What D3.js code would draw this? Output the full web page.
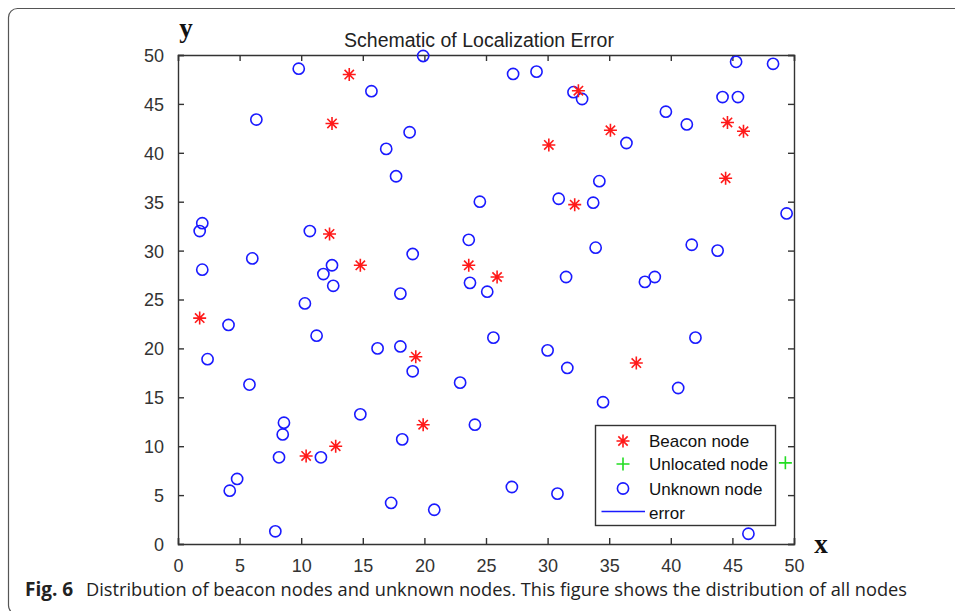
<!DOCTYPE html>
<html>
<head>
<meta charset="utf-8">
<script src="https://cdn.jsdelivr.net/npm/d3@7"></script>
<style>
  body { margin: 0; background: #fff; }
  svg { display: block; }
</style>
</head>
<body>
<svg id="chart"></svg>
<script>
// Beacon nodes (red asterisks)
const beaconX = [13.9, 12.5, 12.3, 14.8, 23.6, 32.5, 35.1, 30.1, 44.6, 45.9, 44.45, 32.2, 25.9, 1.76, 19.3, 19.9, 12.8, 10.4, 37.2];
const beaconY = [48.0, 43.0, 31.7, 28.5, 28.5, 46.35, 42.3, 40.8, 43.1, 42.2, 37.4, 34.7, 27.3, 23.1, 19.15, 12.2, 10.0, 9.0, 18.5];

// Unknown nodes (blue circles)
const unknownX = [9.8, 15.7, 19.9, 6.36, 18.8, 16.9, 17.7, 24.5, 1.97, 1.76, 10.7, 6.03, 19.05, 23.6, 1.97, 12.5, 11.8, 12.6,
  18.05, 23.7, 10.3, 27.2, 29.1, 32.1, 32.8, 45.3, 48.3, 44.2, 45.45, 39.6, 41.3, 36.4, 34.2, 30.9, 33.7, 49.4, 33.9, 41.7,
  43.8, 31.5, 37.9, 38.7, 25.1, 4.1, 11.25, 2.4, 16.2, 18.05, 19.05, 5.8, 22.9, 14.8, 8.6, 8.5, 24.1, 18.2, 8.2, 11.6,
  4.8, 4.2, 17.3, 20.8, 7.9, 25.6, 30.0, 31.6, 42.0, 40.6, 34.5, 27.1, 30.8, 46.3];
const unknownY = [48.6, 46.3, 49.9, 43.4, 42.1, 40.4, 37.6, 35.0, 32.8, 32.0, 32.0, 29.2, 29.65, 31.1, 28.05, 28.5, 27.6, 26.4,
  25.6, 26.7, 24.6, 48.06, 48.3, 46.2, 45.5, 49.3, 49.1, 45.7, 45.7, 44.2, 42.9, 41.0, 37.1, 35.3, 34.9, 33.8, 30.3, 30.6,
  30.0, 27.3, 26.8, 27.3, 25.8, 22.4, 21.3, 18.9, 20.0, 20.2, 17.66, 16.3, 16.5, 13.26, 12.4, 11.2, 12.2, 10.7, 8.86, 8.86,
  6.65, 5.45, 4.2, 3.5, 1.3, 21.1, 19.8, 18.0, 21.1, 15.95, 14.5, 5.83, 5.15, 1.05];

// Unlocated nodes (green plus)
const unlocatedX = [49.3];
const unlocatedY = [8.3];

const xTicks = [0, 5, 10, 15, 20, 25, 30, 35, 40, 45, 50];
const yTicks = [0, 5, 10, 15, 20, 25, 30, 35, 40, 45, 50];
const legendLabels = ['Beacon node', 'Unlocated node', 'Unknown node', 'error'];

const width = 955, height = 611;
const svg = d3.select('#chart').attr('width', width).attr('height', height);

// card border
svg.append('rect')
  .attr('x', 8.5).attr('y', 8.5)
  .attr('width', 1000).attr('height', 606)
  .attr('rx', 9)
  .attr('fill', 'none')
  .attr('stroke', '#555')
  .attr('stroke-width', 1.2);

const plot = { left: 178, right: 794, top: 55, bottom: 544 };
const x = d3.scaleLinear().domain([0, 50]).range([plot.left, plot.right]);
const y = d3.scaleLinear().domain([0, 50]).range([plot.bottom, plot.top]);

const axisColor = '#333';
const tickFont = '18px "Liberation Sans", Arial, sans-serif';

// axes box (MATLAB style, ticks inside)
const xAxis = svg.append('g')
  .attr('transform', `translate(0,${plot.bottom})`)
  .call(d3.axisBottom(x).tickValues(xTicks).tickSize(-6).tickPadding(14).tickFormat(d3.format('d')));
const xTop = svg.append('g')
  .attr('transform', `translate(0,${plot.top})`)
  .call(d3.axisTop(x).tickValues(xTicks).tickSize(-6).tickFormat(''));
const yAxis = svg.append('g')
  .attr('transform', `translate(${plot.left},0)`)
  .call(d3.axisLeft(y).tickValues(yTicks).tickSize(-6).tickPadding(14).tickFormat(d3.format('d')));
const yRight = svg.append('g')
  .attr('transform', `translate(${plot.right},0)`)
  .call(d3.axisRight(y).tickValues(yTicks).tickSize(-6).tickFormat(''));

[xAxis, xTop, yAxis, yRight].forEach(g => {
  g.select('.domain').attr('stroke', axisColor).attr('stroke-width', 1.4);
  g.selectAll('.tick line').attr('stroke', axisColor).attr('stroke-width', 1.4);
  g.selectAll('.tick text').style('font', tickFont).attr('fill', '#333');
});
xAxis.selectAll('.tick text').attr('dy', '0.75em');
yAxis.selectAll('.tick text').attr('dy', '0.36em');

// title
svg.append('text')
  .attr('x', 479).attr('y', 47)
  .attr('text-anchor', 'middle')
  .style('font', '19.5px "Liberation Sans", Arial, sans-serif')
  .attr('fill', '#222')
  .text('Schematic of Localization Error');

// axis letters
svg.append('text')
  .attr('x', 186).attr('y', 37)
  .attr('text-anchor', 'middle')
  .style('font', 'bold 27px "Liberation Serif", "Times New Roman", serif')
  .attr('fill', '#111')
  .text('y');
svg.append('text')
  .attr('x', 821).attr('y', 553)
  .attr('text-anchor', 'middle')
  .style('font', 'bold 27px "Liberation Serif", "Times New Roman", serif')
  .attr('fill', '#111')
  .text('x');

// marker shapes
const red = '#ff1a1a', blue = '#1a1aff', green = '#22dd22';
const starPath = (r) => {
  const d = r * 0.72;
  return `M${-r},0L${r},0M0,${-r}L0,${r}M${-d},${-d}L${d},${d}M${-d},${d}L${d},${-d}`;
};
const plusPath = (r) => `M${-r},0L${r},0M0,${-r}L0,${r}`;

const unknown = unknownX.map((v, i) => [v, unknownY[i]]);
const beacon = beaconX.map((v, i) => [v, beaconY[i]]);
const unlocated = unlocatedX.map((v, i) => [v, unlocatedY[i]]);

svg.append('g').selectAll('circle')
  .data(unknown)
  .enter().append('circle')
    .attr('cx', d => x(d[0]))
    .attr('cy', d => y(d[1]))
    .attr('r', 5.6)
    .attr('fill', 'none')
    .attr('stroke', blue)
    .attr('stroke-width', 1.6);

svg.append('g').selectAll('path')
  .data(beacon)
  .enter().append('path')
    .attr('transform', d => `translate(${x(d[0])},${y(d[1])})`)
    .attr('d', starPath(6.5))
    .attr('stroke', red)
    .attr('stroke-width', 1.6)
    .attr('fill', 'none');

svg.append('g').selectAll('path')
  .data(unlocated)
  .enter().append('path')
    .attr('transform', d => `translate(${x(d[0])},${y(d[1])})`)
    .attr('d', plusPath(6.5))
    .attr('stroke', green)
    .attr('stroke-width', 1.6)
    .attr('fill', 'none');

// legend
const legend = svg.append('g');
legend.append('rect')
  .attr('x', 595.5).attr('y', 425.5)
  .attr('width', 180).attr('height', 100)
  .attr('fill', '#fff')
  .attr('stroke', '#333')
  .attr('stroke-width', 1.4);

const rowY = [441, 464, 488.5, 512.5];
const mx = 623;
legend.append('path')
  .attr('transform', `translate(${mx},${rowY[0]})`)
  .attr('d', starPath(6.5)).attr('stroke', red).attr('stroke-width', 1.6);
legend.append('path')
  .attr('transform', `translate(${mx},${rowY[1]})`)
  .attr('d', plusPath(6.5)).attr('stroke', green).attr('stroke-width', 1.6);
legend.append('circle')
  .attr('cx', mx).attr('cy', rowY[2]).attr('r', 5.6)
  .attr('fill', 'none').attr('stroke', blue).attr('stroke-width', 1.6);
legend.append('line')
  .attr('x1', 601.5).attr('x2', 645)
  .attr('y1', rowY[3] - 1).attr('y2', rowY[3] - 1)
  .attr('stroke', blue).attr('stroke-width', 1.6);

legend.selectAll('text.lbl')
  .data(legendLabels)
  .enter().append('text')
    .attr('class', 'lbl')
    .attr('x', 649)
    .attr('y', (d, i) => rowY[i])
    .attr('dy', '0.36em')
    .style('font', '17px "Liberation Sans", Arial, sans-serif')
    .attr('fill', '#111')
    .text(d => d);

// caption
const caption = svg.append('text')
  .attr('x', 25).attr('y', 596)
  .style('font', '19px "Open Sans", sans-serif')
  .attr('fill', '#222');
caption.append('tspan')
  .style('font-weight', 'bold')
  .text('Fig. 6');
caption.append('tspan')
  .attr('x', 86)
  .attr('textLength', 821)
  .attr('lengthAdjust', 'spacingAndGlyphs')
  .text('Distribution of beacon nodes and unknown nodes. This figure shows the distribution of all nodes');
</script>
</body>
</html>
